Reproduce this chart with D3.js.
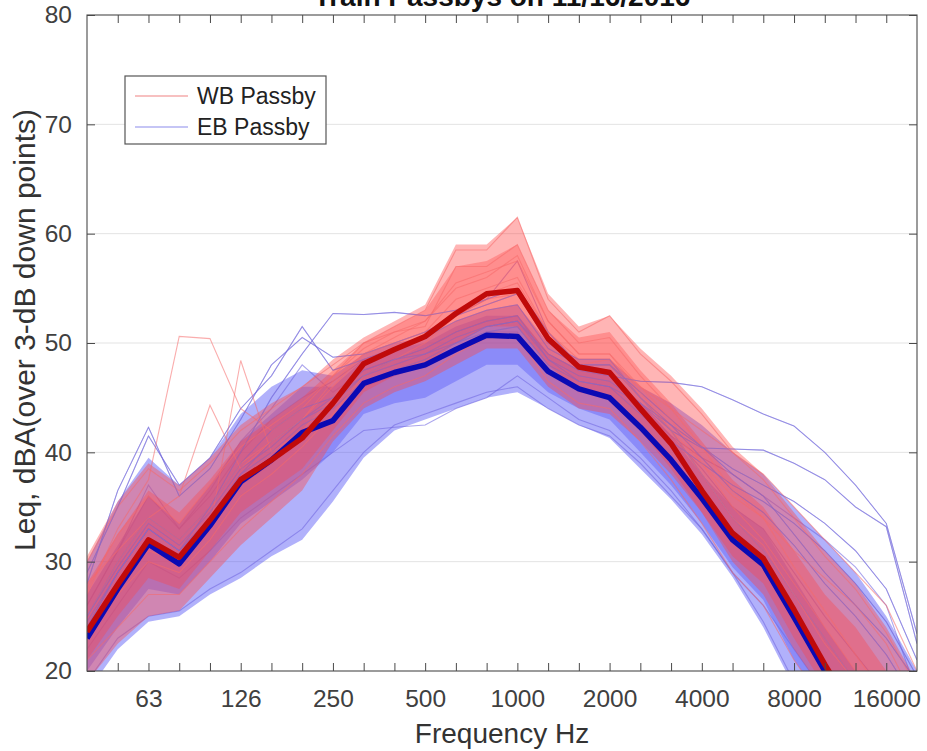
<!DOCTYPE html>
<html><head><meta charset="utf-8">
<script src="https://cdn.jsdelivr.net/npm/d3@7"></script>
<style>
body{margin:0;background:#fff}
svg{display:block;font-family:"Liberation Sans",Arial,Helvetica,sans-serif}
</style>
</head><body>
<svg id="chart" width="927" height="751"></svg>
<script>
// 1/3-octave band centres (x positions are band indices)
const bandsHz = [40,50,63,80,100,125,160,200,250,315,400,500,630,800,1000,1250,1600,2000,2500,3150,4000,5000,6300,8000,10000,12500,16000,20000];
const xTickLabels = ["63","126","250","500","1000","2000","4000","8000","16000"];
const xTickLabelIndex = [2,5,8,11,14,17,20,23,26];
const yTicks = [20,30,40,50,60,70,80];
const legendLabels = ["WB Passby","EB Passby"];

// average spectra (thick lines)
const wbMean = [23.6,27.9,32.0,30.4,33.8,37.5,39.3,41.3,44.5,48.1,49.4,50.6,52.7,54.5,54.8,50.4,47.8,47.3,44.0,40.8,36.5,32.6,30.3,25.6,20.6,16.0,12.0,9.0];
const ebMean = [23.0,27.5,31.6,29.8,33.3,37.3,39.3,41.8,42.9,46.3,47.3,48.0,49.4,50.7,50.6,47.4,45.8,45.0,42.3,39.3,35.8,32.0,29.7,24.9,20.0,15.5,11.5,8.5];

// outer spread of the bundles of individual passbys
const wbUpper = [30.5,35.5,39.0,37.0,39.5,42.5,44.5,46.0,48.5,50.5,52.0,53.5,59.0,59.0,61.5,54.5,51.5,52.5,49.5,47.0,44.0,40.5,38.0,34.5,31.0,28.0,24.0,19.0];
const wbLower = [19.0,22.5,25.0,25.5,28.5,31.5,34.0,36.5,41.0,44.0,45.5,46.5,48.0,49.5,49.5,46.0,44.0,43.5,41.0,38.0,34.5,30.0,27.0,22.0,18.0,14.0,11.0,9.0];
const ebUpper = [30.0,35.5,39.5,37.0,39.5,43.5,46.0,47.5,47.0,49.0,50.0,50.5,52.0,53.0,53.5,50.0,48.5,48.5,46.0,44.5,42.5,40.0,38.0,35.0,32.0,29.0,25.0,20.0];
const ebLower = [18.0,22.0,24.5,25.0,27.0,28.5,30.5,32.0,35.5,39.5,42.0,43.0,44.0,45.0,45.5,44.0,42.5,41.3,38.5,35.7,32.5,28.6,24.0,18.5,15.0,12.0,9.0,7.0];
// dense cores of the bundles
const wbCoreUpper = [28.0,32.5,36.5,34.5,37.5,41.0,43.0,45.0,47.5,50.0,51.5,53.0,57.0,57.5,59.0,53.0,50.5,51.0,47.5,44.5,41.0,37.5,35.0,31.0,27.0,24.0,20.0,16.0];
const wbCoreLower = [21.0,25.0,28.5,27.5,31.0,34.5,36.5,38.5,42.0,45.5,47.0,48.0,50.0,51.5,51.5,48.0,45.5,45.0,42.0,38.5,34.5,30.5,28.0,23.0,18.5,14.5,11.0,8.0];
const ebCoreUpper = [27.0,31.5,36.0,33.5,37.0,41.0,43.5,46.0,46.0,48.5,49.5,50.0,51.5,52.5,52.5,49.0,47.5,47.0,44.5,41.5,38.0,35.0,33.0,28.5,24.0,20.0,16.0,12.0];
const ebCoreLower = [20.0,24.0,27.5,27.0,30.0,33.5,35.5,37.5,40.0,43.5,44.5,45.0,46.5,48.0,48.0,45.5,44.0,43.0,40.0,37.0,33.5,29.5,26.5,21.0,17.0,13.0,10.0,8.0];

// individual WB passbys
const wbPass1 = [30.0,35.0,38.5,36.5,39.0,42.0,44.0,46.0,48.0,50.0,51.5,53.0,58.5,58.5,61.5,54.0,51.0,52.5,49.0,46.5,43.5,40.0,37.5,34.0,30.5,27.5,23.5,18.5];
const wbPass2 = [21.0,24.0,27.0,27.0,30.0,33.0,35.5,38.0,41.5,44.5,46.0,47.0,49.0,50.5,50.5,46.5,44.5,44.0,41.0,37.5,33.5,29.0,26.0,21.0,17.0,14.0,11.0,9.0];
const wbPass3 = [25.0,30.0,34.0,32.0,35.0,39.0,41.0,43.0,46.0,49.0,50.5,52.0,55.5,56.5,57.5,52.0,49.0,49.0,45.5,42.0,38.0,34.0,31.5,27.0,22.5,19.0,15.0,12.0];
const wbPass4 = [27.5,32.5,36.0,33.5,37.0,40.5,42.5,44.5,47.0,49.5,51.0,51.5,57.0,57.0,59.0,53.0,50.0,50.5,47.0,44.0,40.5,36.5,34.0,29.5,25.5,21.5,17.5,13.0];
const wbPass5 = [27.0,33.0,37.5,50.6,50.4,44.0,42.0,44.0,47.0,50.0,51.0,52.0,55.0,56.0,58.0,52.0,49.0,49.0,46.0,43.0,39.0,35.0,32.0,28.0,24.0,20.0,16.0,12.0];
const wbPass6 = [28.0,31.0,34.0,36.0,44.3,38.5,41.0,43.0,46.5,49.0,50.0,51.0,54.0,55.0,56.0,51.0,48.5,48.5,45.0,42.0,38.0,34.0,31.0,27.0,23.0,19.0,15.0,11.0];
const wbPass7 = [24.0,28.0,31.0,30.0,33.0,48.4,40.0,42.0,45.0,48.0,49.5,50.5,53.0,54.5,55.5,51.0,48.0,48.5,46.0,44.0,42.0,40.0,38.0,35.0,32.0,29.0,26.0,20.0];
const wbPass8 = [23.0,27.0,30.0,29.0,32.0,36.0,38.0,40.5,43.5,47.0,48.5,50.0,52.5,54.0,54.5,50.5,48.0,48.0,45.0,42.0,39.0,36.0,34.0,31.0,28.5,26.0,22.5,17.0];

// individual EB passbys
const ebPass1 = [29.0,35.0,41.5,37.0,39.5,44.0,47.0,51.5,47.5,48.5,49.5,50.5,52.0,53.0,53.5,49.5,48.0,48.0,45.5,43.0,40.5,38.0,36.0,32.5,29.0,26.0,23.0,19.0];
const ebPass2 = [19.0,23.0,25.0,25.5,27.5,29.0,31.0,33.0,36.5,40.0,42.5,43.5,44.5,45.5,46.0,44.0,42.5,41.5,39.0,36.0,33.0,29.0,24.5,19.0,15.0,12.0,9.0,7.0];
const ebPass3 = [23.0,28.0,32.0,30.0,33.0,37.0,39.0,42.0,43.0,46.0,47.0,48.0,49.5,51.0,51.0,47.5,46.0,45.0,42.5,39.5,36.0,32.0,30.0,25.0,20.5,16.5,13.0,10.0];
const ebPass4 = [26.0,31.0,37.0,33.0,36.5,41.0,44.0,48.0,45.5,47.5,48.5,49.5,51.0,52.0,52.5,49.0,47.5,47.0,44.5,41.5,38.5,35.0,33.0,29.0,25.0,21.5,18.0,14.0];
const ebPass5 = [24.0,29.0,33.0,31.0,34.0,38.0,41.0,43.0,45.0,47.5,48.5,49.0,50.0,51.5,52.0,49.0,47.5,47.0,46.5,46.4,46.0,44.8,43.5,42.4,40.0,37.0,33.5,23.4];
const ebPass6 = [25.0,30.0,34.0,32.0,35.0,39.0,42.0,44.0,45.0,47.0,48.5,49.5,51.0,52.0,52.5,48.5,46.5,46.0,44.5,42.0,40.4,40.3,40.2,39.0,37.5,35.0,33.2,22.5];
const ebPass7 = [24.0,29.0,33.0,31.0,35.0,40.0,45.0,49.0,52.7,52.6,52.8,52.5,53.0,54.0,55.0,51.0,48.0,48.0,45.0,42.0,38.0,34.0,31.0,27.0,23.0,19.0,15.0,11.0];
const ebPass8 = [22.0,26.0,30.0,28.5,31.0,34.0,36.0,38.0,40.0,42.0,42.3,42.5,44.0,45.0,47.0,45.0,43.0,42.0,39.5,36.5,33.0,29.0,26.0,22.0,18.0,14.0,11.0,8.0];
const ebPass9 = [26.0,31.0,36.0,33.0,36.0,40.0,43.0,45.0,46.5,48.5,49.5,50.5,52.5,54.0,57.5,51.0,48.0,47.5,44.0,41.5,39.5,38.0,36.0,34.0,32.0,29.5,26.0,18.0];
const ebPass10 = [28.0,36.5,42.3,36.0,38.5,43.0,48.0,50.5,48.7,49.0,50.0,51.0,52.5,53.5,54.5,50.0,48.5,48.5,45.0,42.5,39.5,36.5,34.5,31.5,28.0,25.0,21.5,17.0];
const ebPass11 = [25.0,29.5,33.5,31.5,34.5,38.5,40.5,43.0,44.5,47.0,48.0,49.0,50.5,51.5,52.0,48.5,47.0,46.5,44.5,42.5,40.5,38.5,37.0,35.5,33.5,31.0,27.5,21.0];
const ebPass12 = [24.5,29.0,33.0,31.0,34.0,38.0,40.0,42.5,44.0,46.5,47.5,48.5,50.0,51.0,51.5,48.0,46.5,46.0,43.5,41.0,39.0,37.0,35.5,33.5,31.0,28.0,24.5,19.5];

const wbPassbys = [wbPass1,wbPass2,wbPass3,wbPass4,wbPass5,wbPass6,wbPass7,wbPass8];
const ebPassbys = [ebPass1,ebPass2,ebPass3,ebPass4,ebPass5,ebPass6,ebPass7,ebPass8,ebPass9,ebPass10,ebPass11,ebPass12];

const L = 87, R = 917, T = 15, B = 671;
const svg = d3.select("#chart");
const x = d3.scaleLinear().domain([0, bandsHz.length - 1]).range([L, R]);
const y = d3.scaleLinear().domain([20, 80]).range([B, T]);

svg.append("rect").attr("width",927).attr("height",751).attr("fill","#fff");

// grid
svg.append("g").selectAll("line").data(yTicks.filter(v => v > 20 && v < 80)).join("line")
  .attr("x1", L).attr("x2", R).attr("y1", d => y(d)).attr("y2", d => y(d))
  .attr("stroke", "#e3e3e3").attr("stroke-width", 1);

svg.append("clipPath").attr("id","clip").append("rect")
  .attr("x", L).attr("y", T).attr("width", R - L).attr("height", B - T);
const plot = svg.append("g").attr("clip-path","url(#clip)");

const area = (lo, hi) => d3.area().x((d,i) => x(i)).y0((d,i) => y(lo[i])).y1((d,i) => y(hi[i]))(lo);
const line = d3.line().x((d,i) => x(i)).y(d => y(d));

const blueFill = "rgb(70,70,245)", redFill = "rgb(255,70,70)";
plot.append("path").attr("d", area(ebLower, ebUpper)).attr("fill", blueFill).attr("fill-opacity", 0.42);
plot.append("path").attr("d", area(ebCoreLower, ebCoreUpper)).attr("fill", blueFill).attr("fill-opacity", 0.35);
plot.append("g").selectAll("path").data(ebPassbys).join("path")
  .attr("d", line).attr("fill","none").attr("stroke","rgb(115,105,225)").attr("stroke-opacity",0.6).attr("stroke-width",1.1);
plot.append("path").attr("d", area(wbLower, wbUpper)).attr("fill", redFill).attr("fill-opacity", 0.4);
plot.append("path").attr("d", area(wbCoreLower, wbCoreUpper)).attr("fill", redFill).attr("fill-opacity", 0.35);
plot.append("g").selectAll("path").data(wbPassbys).join("path")
  .attr("d", line).attr("fill","none").attr("stroke","rgb(245,105,105)").attr("stroke-opacity",0.55).attr("stroke-width",1.1);
// EB passbys that stay visible above the WB bundle
plot.append("g").selectAll("path").data([ebPass1, ebPass5, ebPass6, ebPass7, ebPass10, ebPass11, ebPass12]).join("path")
  .attr("d", line).attr("fill","none").attr("stroke","rgb(120,110,215)").attr("stroke-opacity",0.45).attr("stroke-width",1);

plot.append("path").attr("d", line(ebMean)).attr("fill","none").attr("stroke","#0a0ab4").attr("stroke-width",5.5).attr("stroke-linejoin","round");
plot.append("path").attr("d", line(wbMean)).attr("fill","none").attr("stroke","#c00a0a").attr("stroke-width",5.5).attr("stroke-linejoin","round");

// axes
const axCol = "#4a4a4a";
const labelMap = new Map(xTickLabelIndex.map((k,i) => [k, xTickLabels[i]]));
const xTickVals = d3.range(1, bandsHz.length - 1);
const gx = svg.append("g").attr("transform",`translate(0,${B})`)
  .call(d3.axisBottom(x).tickValues(xTickVals).tickSize(-8).tickPadding(19).tickFormat(i => labelMap.get(i) || ""));
const gxt = svg.append("g").attr("transform",`translate(0,${T})`)
  .call(d3.axisTop(x).tickValues(xTickVals).tickSize(-8).tickFormat(""));
const gy = svg.append("g").attr("transform",`translate(${L},0)`)
  .call(d3.axisLeft(y).tickValues(yTicks).tickSize(-8).tickPadding(15));
const gyr = svg.append("g").attr("transform",`translate(${R},0)`)
  .call(d3.axisRight(y).tickValues(yTicks).tickSize(-8).tickFormat(""));
[gx,gxt,gy,gyr].forEach(g => {
  g.select(".domain").remove();
  g.selectAll(".tick line").attr("stroke", axCol);
  g.selectAll("text").attr("fill","#404040").attr("font-size",24.5).attr("font-family",'"Liberation Sans",Arial,sans-serif');
});
svg.append("rect").attr("x",L).attr("y",T).attr("width",R-L).attr("height",B-T)
  .attr("fill","none").attr("stroke",axCol).attr("stroke-width",1.1);

// labels
svg.append("text").attr("x",(L+R)/2).attr("y",743).attr("text-anchor","middle")
  .attr("font-size",28).attr("fill","#333").text("Frequency Hz");
svg.append("text").attr("transform",`translate(35,330) rotate(-90)`).attr("text-anchor","middle")
  .attr("font-size",30).attr("fill","#333").text("Leq, dBA(over 3-dB down points)");
svg.append("text").attr("x",(L+R)/2).attr("y",6).attr("text-anchor","middle")
  .attr("font-size",28).attr("font-weight","bold").attr("fill","#111").text("Train Passbys on 11/16/2016");

// legend
const lg = svg.append("g");
lg.append("rect").attr("x",125).attr("y",76).attr("width",201).attr("height",68)
  .attr("fill","#fff").attr("stroke","#555").attr("stroke-width",1.2);
const legendColors = ["rgb(240,130,130)","rgb(140,140,235)"];
legendLabels.forEach((t,i) => {
  const yy = 96 + i*31;
  lg.append("line").attr("x1",135).attr("x2",188).attr("y1",yy).attr("y2",yy)
    .attr("stroke",legendColors[i]).attr("stroke-width",1.2);
  lg.append("text").attr("x",197).attr("y",yy+8).attr("font-size",23).attr("fill","#222").text(t);
});
</script>
</body></html>
